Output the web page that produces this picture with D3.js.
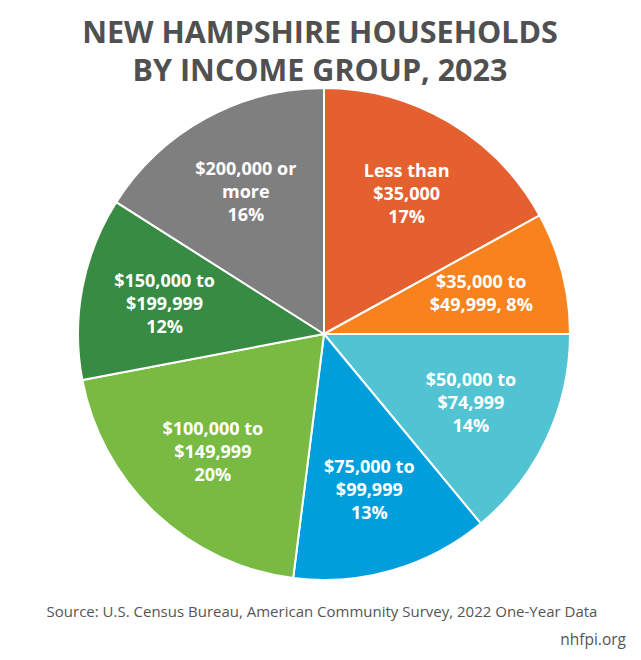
<!DOCTYPE html>
<html><head><meta charset="utf-8">
<script src="https://cdn.jsdelivr.net/npm/d3@7"></script>
<style>body{margin:0;background:#fff}</style>
</head><body>
<svg id="c" width="641" height="660"></svg>
<script>
const labels = [
  ["Less than", "$35,000", "17%"],
  ["$35,000 to", "$49,999, 8%"],
  ["$50,000 to", "$74,999", "14%"],
  ["$75,000 to", "$99,999", "13%"],
  ["$100,000 to", "$149,999", "20%"],
  ["$150,000 to", "$199,999", "12%"],
  ["$200,000 or", "more", "16%"]
];
const values = [17, 8, 14, 13, 20, 12, 16];
const colors = ["#E5602F", "#F7821E", "#52C3D3", "#009FDC", "#79BA43", "#388B42", "#7F7F7F"];

const svg = d3.select("#c");
const cx = 324, cy = 334, R = 246;
const font = "'Open Sans', sans-serif";

svg.append("g").selectAll("text")
  .data(["NEW HAMPSHIRE HOUSEHOLDS", "BY INCOME GROUP, 2023"])
  .enter().append("text")
  .attr("x", 320).attr("y", (d, i) => 43 + i * 38)
  .attr("text-anchor", "middle")
  .attr("font-family", font).attr("font-weight", "700")
  .attr("font-size", 30.5).attr("fill", "#505050")
  .text(d => d);

const pie = d3.pie().sort(null).value(d => d)(values);
const arc = d3.arc().innerRadius(0).outerRadius(R);
const g = svg.append("g").attr("transform", `translate(${cx},${cy})`);
g.selectAll("path").data(pie).enter().append("path")
  .attr("d", arc).attr("fill", (d, i) => colors[i])
  .attr("stroke", "#fff").attr("stroke-width", 2);

const lab = d3.arc().innerRadius(R * 0.66).outerRadius(R * 0.66);
pie.forEach((d, i) => {
  const [x, y] = lab.centroid(d);
  const lines = labels[i];
  lines.forEach((s, j) => {
    g.append("text").attr("text-anchor", "middle")
      .attr("font-family", font).attr("font-weight", "700")
      .attr("font-size", 18).attr("fill", "#fff")
      .attr("x", x)
      .attr("y", y + (j - (lines.length - 1) / 2) * 23 + 6).text(s);
  });
});

svg.append("text").attr("x", 322).attr("y", 617).attr("text-anchor", "middle")
  .attr("font-family", font).attr("font-size", 15).attr("fill", "#555")
  .text("Source: U.S. Census Bureau, American Community Survey, 2022 One-Year Data");
svg.append("text").attr("x", 626).attr("y", 645).attr("text-anchor", "end")
  .attr("font-family", font).attr("font-size", 15.5).attr("fill", "#555")
  .text("nhfpi.org");
</script>
</body></html>
